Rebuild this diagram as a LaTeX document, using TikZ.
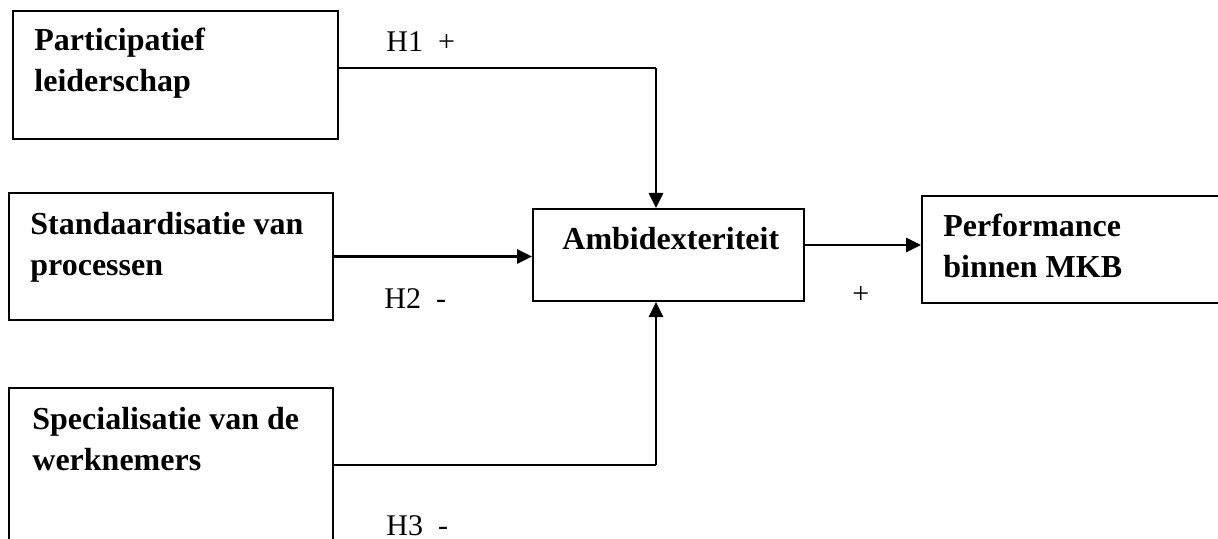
\documentclass[tikz,border=0pt]{standalone}
\usepackage{fontspec}
\setmainfont{Liberation Serif}
\usetikzlibrary{arrows.meta}

\begin{document}
\begin{tikzpicture}[
    x=0.5pt, y=-0.5pt,
    box/.style={draw, line width=1pt, rectangle, inner sep=0pt},
    boxtext/.style={anchor=base west, align=left, inner sep=0pt,
        font=\bfseries\fontsize{16}{20.5}\selectfont},
    hyplabel/.style={anchor=base west, inner sep=0pt,
        font=\fontsize{15}{18}\selectfont},
    link/.style={line width=1.4pt},
    arrow/.style={line width=1.4pt, -{Triangle[length=7.5pt,width=7pt]}}
 ]
\useasboundingbox (0,0) rectangle (1218,539);

% blokken
\node[box, minimum width=325*0.5pt, minimum height=128*0.5pt] (lead) at (175.5,75.5) {};
\node[box, minimum width=324*0.5pt, minimum height=127*0.5pt] (std) at (171,256.5) {};
\node[box, minimum width=324*0.5pt, minimum height=172*0.5pt] (spec) at (171,474) {};
\node[box, minimum width=271*0.5pt, minimum height=92*0.5pt] (ambi) at (668.5,255) {};
\node[box, minimum width=318*0.5pt, minimum height=107*0.5pt] (perf) at (1081,249.5) {};

% teksten (base = laatste regel)
\node[boxtext] (leadtext) at (34,92) {Participatief\\leiderschap};
\node[boxtext] (stdtext) at (30,276) {Standaardisatie van\\processen};
\node[boxtext] (spectext) at (32,470) {Specialisatie van de\\werknemers};
\node[boxtext] (ambitext) at (562,250) {Ambidexteriteit};
\node[boxtext] (perftext) at (943,278) {Performance\\binnen MKB};

% hypothesen
\node[hyplabel] (h1) at (386,52) {H1\ \ +};
\node[hyplabel] (h2) at (384,308) {H2\ \ -};
\node[hyplabel] (h3) at (386,535) {H3\ \ -};
\node[hyplabel] (h4) at (852,303) {+};

% pijlen
\coordinate (k1) at (656,68);
\coordinate (k3) at (656,465);
\coordinate (k4) at (804,245);
\draw[link] (lead.east |- k1) -- (k1);
\draw[arrow] (k1) -- (k1 |- ambi.north);
\draw[arrow] (std.east) -- (std.east -| ambi.west);
\draw[link] (spec.east |- k3) -- (k3);
\draw[arrow] (k3) -- (k3 |- ambi.south);
\draw[arrow] (k4) -- (k4 -| perf.west);

\end{tikzpicture}
\end{document}
